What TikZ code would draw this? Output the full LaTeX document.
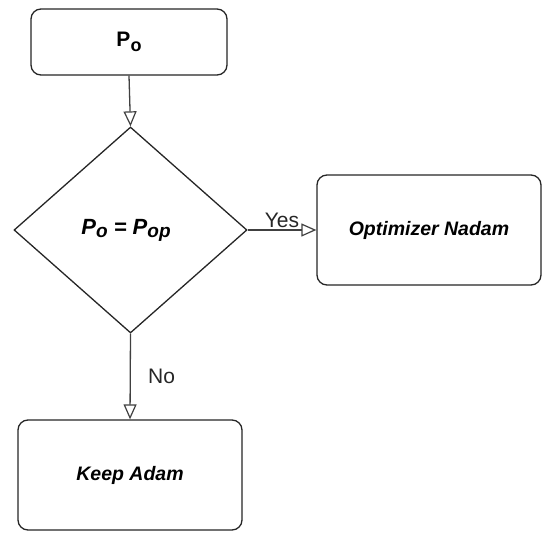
\documentclass[tikz,border=0pt]{standalone}
\usepackage{fontspec}
\setmainfont{Liberation Sans}
\usetikzlibrary{shapes.geometric,arrows.meta}
\newcommand{\lowsub}[3]{\raisebox{-#1}{\fontsize{#2}{#2}\selectfont #3}}
\begin{document}
\begin{tikzpicture}[x=1pt,y=-1pt,
  box/.style={draw=black!85, line width=1.3pt, rounded corners=10pt, fill=white, align=center, font=\fontsize{19.5}{21}\selectfont\bfseries\itshape},
  conn/.style={draw=black!75, line width=1.3pt, -{Triangle[open, length=15pt, width=13pt, line width=1.2pt]}},
  lbl/.style={font=\fontsize{21}{23}\selectfont, text=black!85}
]
\useasboundingbox (0,0) rectangle (550,541);
\node[box, minimum width=196pt, minimum height=66pt, font=\fontsize{21}{23}\selectfont\bfseries] (p0) at (129,42) {P\lowsub{5pt}{18}{o}};
\node[diamond, draw=black!85, line width=1.3pt, minimum width=233pt, minimum height=206pt, inner sep=0pt, aspect=1.13] (dec) at (130.5,230) {};
\node[font=\fontsize{22}{24}\selectfont\bfseries\itshape] (dectext) at (126,230) {P\lowsub{3pt}{19}{o} = P\lowsub{3pt}{19}{op}};
\node[box, minimum width=224pt, minimum height=110pt] (nadam) at (429,230) {Optimizer Nadam};
\node[box, minimum width=224pt, minimum height=110pt] (adam) at (130,475) {Keep Adam};
\draw[conn] (p0.south) -- (dec.north);
\draw[conn] (dec.east) -- (nadam.west) node[lbl, pos=0.5, above=-2pt] (yes) {Yes};
\draw[conn] (dec.south) -- (adam.north) node[lbl, pos=0.5, right=14pt] (no) {No};
\end{tikzpicture}
\end{document}
